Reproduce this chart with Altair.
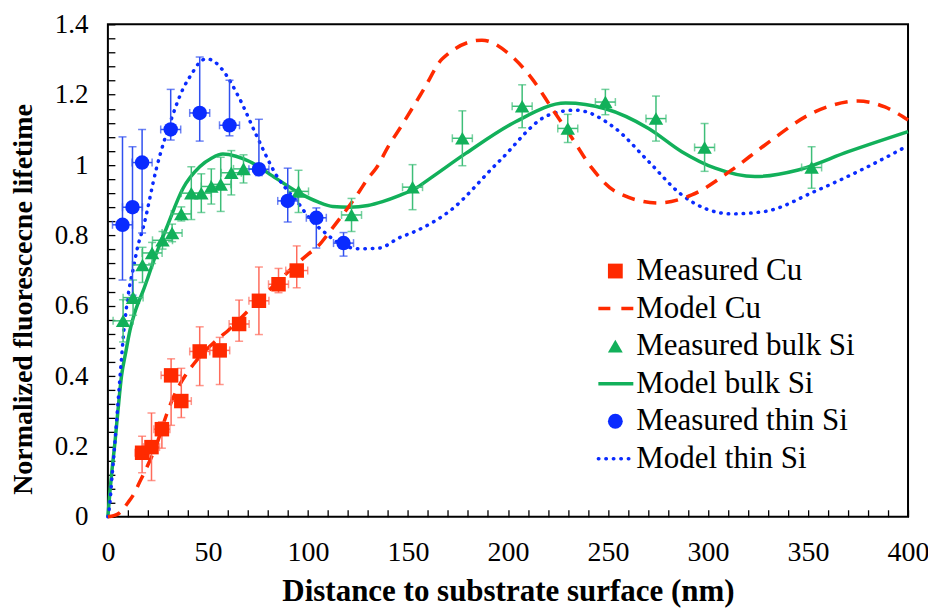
import altair as alt
import pandas as pd

# ---------------- data ----------------
# Measured Cu (red squares)
cu_x = [17.1, 21.8, 27.0, 31.6, 36.7, 45.9, 55.9, 65.6, 75.5, 85.3, 94.4]
cu_y = [0.182, 0.198, 0.249, 0.402, 0.329, 0.470, 0.473, 0.548, 0.614, 0.661, 0.700]
cu_lo = [0.125, 0.103, 0.195, 0.260, 0.282, 0.373, 0.376, 0.499, 0.518, 0.637, 0.651]
cu_hi = [0.229, 0.295, 0.270, 0.449, 0.422, 0.540, 0.510, 0.616, 0.710, 0.706, 0.770]
cu_xerr = [3.5, 4, 4, 5, 5, 5, 5, 5, 5, 5, 5.5]

# Measured bulk Si (green triangles)
bs_x = [7.6, 12.6, 17.3, 22.1, 27.3, 32.1, 36.7, 41.7, 46.7, 51.7, 56.4, 61.7, 67.8,
        95.3, 121.8, 152.3, 177.2, 207.1, 229.9, 248.7, 274.0, 298.3, 351.8]
bs_y = [0.557, 0.623, 0.716, 0.750, 0.786, 0.807, 0.861, 0.920, 0.920, 0.939, 0.945, 0.978, 0.989,
        0.925, 0.858, 0.937, 1.076, 1.167, 1.104, 1.179, 1.132, 1.050, 0.993]
bs_err = [0.06, 0.05, 0.05, 0.03, 0.025, 0.025, 0.02, 0.075, 0.055, 0.05, 0.077, 0.063, 0.04,
          0.06, 0.047, 0.064, 0.078, 0.061, 0.04, 0.036, 0.064, 0.068, 0.059]
bs_xerr = [5] * 23

# Measured thin Si (blue circles)
ts_x = [7.3, 12.3, 17.1, 31.4, 45.9, 60.8, 75.5, 89.9, 104.2, 117.8]
ts_y = [0.830, 0.880, 1.007, 1.101, 1.148, 1.113, 0.988, 0.898, 0.850, 0.778]
ts_lo = [0.673, 0.630, 0.807, 1.071, 1.068, 1.083, 0.970, 0.838, 0.764, 0.741]
ts_hi = [1.080, 1.052, 1.101, 1.215, 1.307, 1.241, 1.130, 0.991, 0.878, 0.808]
ts_xerr = [5] * 10

# Model Cu (red dashed)
mcu_x = [0, 3, 6, 10, 13, 16, 19, 24, 29.3, 32, 39.2, 43, 55.9, 60, 67.5, 100, 105, 111.6,
         119.9, 125.7, 130, 134, 140.6, 146.5, 153.1, 158.1, 167.2, 187, 200.5, 212.1, 222.1,
         232.1, 242, 253.7, 275.3, 291.9, 311.9, 328.5, 353.4, 375, 388.4, 400]
mcu_y = [0, 0.003, 0.012, 0.040, 0.065, 0.100, 0.135, 0.200, 0.290, 0.330, 0.406, 0.435, 0.510,
         0.529, 0.571, 0.746, 0.769, 0.816, 0.878, 0.925, 0.962, 0.990, 1.057, 1.109, 1.170,
         1.217, 1.302, 1.355, 1.316, 1.245, 1.160, 1.076, 0.991, 0.925, 0.892, 0.915, 0.986,
         1.057, 1.151, 1.182, 1.165, 1.128]

# Model bulk Si (green solid)
mbs_x = [0, 1, 2, 3.5, 5, 6.8, 9, 11, 14, 17.6, 20, 23.4, 29.3, 37.6, 45.9, 52, 57.5, 64, 70.8,
         84.1, 95.8, 105, 112.4, 120.7, 130, 137.3, 145.6, 153.9, 160.6, 178.9, 203.8, 228.8,
         248.7, 270.3, 286.9, 303.6, 323.5, 345.1, 370.1, 400]
mbs_y = [0, 0.07, 0.13, 0.21, 0.30, 0.40, 0.47, 0.529, 0.59, 0.642, 0.68, 0.736, 0.821, 0.934,
         0.995, 1.02, 1.031, 1.025, 1.01, 0.962, 0.92, 0.895, 0.882, 0.880, 0.885, 0.896, 0.913,
         0.934, 0.960, 1.033, 1.123, 1.176, 1.160, 1.104, 1.038, 0.991, 0.967, 0.986, 1.038, 1.095]

# Model thin Si (blue dotted)
mts_x = [0, 1, 2, 3.5, 5, 6.8, 8, 9.3, 11, 12.6, 15, 17.6, 24.3, 31.8, 37.6, 42, 45.9, 49.2, 53,
         57.5, 65.8, 74.2, 84.1, 95.8, 100.7, 109.1, 114, 125.7, 135.7, 145.6, 153.9, 170.6,
         195.5, 220.4, 233.8, 253.7, 270.3, 286.9, 311.9, 328.5, 353.4, 378.4, 400]
mts_y = [0, 0.04, 0.11, 0.21, 0.32, 0.45, 0.53, 0.595, 0.66, 0.703, 0.77, 0.821, 0.991, 1.132,
         1.217, 1.260, 1.292, 1.302, 1.295, 1.269, 1.189, 1.085, 0.972, 0.887, 0.849, 0.805,
         0.783, 0.762, 0.764, 0.793, 0.812, 0.868, 1.010, 1.142, 1.156, 1.104, 1.010, 0.915,
         0.861, 0.868, 0.925, 0.991, 1.055]

legend_labels = ["Measured Cu", "Model Cu", "Measured bulk Si", "Model bulk Si",
                 "Measured thin Si", "Model thin Si"]

x_ticks = list(range(0, 401, 10))
y_ticks = [round(i * 0.04, 2) for i in range(36)]

# ---------------- styling ----------------
FONT = "Liberation Serif"
RED, RED_E = "#FF2A00", "#FF6B5B"
GREEN, GREEN_E = "#12B05A", "#3DBE78"
BLUE, BLUE_E = "#0A2BFF", "#3050F0"

xscale = alt.Scale(domain=[0, 400], nice=False, zero=False)
yscale = alt.Scale(domain=[0, 1.4], nice=False, zero=False)

x_axis = alt.Axis(values=x_ticks, labelExpr="datum.value % 50 == 0 ? format(datum.value, 'd') : ''",
                  tickSize=7, offset=-7, domain=False, grid=False, labelPadding=22,
                  labelFont=FONT, labelFontSize=28, labelColor="black", tickColor="black",
                  tickWidth=1.3, labelFlush=False, labelOverlap=False,
                  titleFont=FONT, titleFontSize=31, titleFontWeight="bold", titleColor="black",
                  titlePadding=10)
y_axis = alt.Axis(values=y_ticks,
                  labelExpr="abs(datum.value*5 - round(datum.value*5)) < 0.001 ? format(datum.value, '~g') : ''",
                  tickSize=7, offset=-7, domain=False, grid=False, labelPadding=20,
                  labelFont=FONT, labelFontSize=27, labelColor="black", tickColor="black",
                  tickWidth=1.3, labelFlush=False, labelOverlap=False,
                  titleFont=FONT, titleFontSize=28, titleFontWeight="bold", titleColor="black",
                  titlePadding=17, titleY=275)
XT = "Distance to substrate surface (nm)"
YT = "Normalized fluorescecne lifetime"


def X(f):
    return alt.X(f, type="quantitative", scale=xscale, axis=x_axis, title=XT)


def Y(f):
    return alt.Y(f, type="quantitative", scale=yscale, axis=y_axis, title=YT)


def model_line(xs, ys, color, **kw):
    df = pd.DataFrame({"x": xs, "y": ys})
    return alt.Chart(df).mark_line(color=color, interpolate="monotone", **kw).encode(x=X("x"), y=Y("y"))


def err_layers(xs, ys, lo, hi, xerr, color):
    v = pd.DataFrame({"x": xs, "lo": lo, "hi": hi})
    h = pd.DataFrame({"xl": [a - e for a, e in zip(xs, xerr)], "xh": [a + e for a, e in zip(xs, xerr)], "y": ys})
    vc = pd.DataFrame({"x": xs + xs, "y": lo + hi})
    hc = pd.DataFrame({"x": list(h["xl"]) + list(h["xh"]), "y": ys + ys})
    return [
        alt.Chart(v).mark_rule(color=color, strokeWidth=1.5).encode(x=X("x"), y=Y("lo"), y2="hi"),
        alt.Chart(h).mark_rule(color=color, strokeWidth=1.5).encode(x=X("xl"), x2="xh", y=Y("y")),
        alt.Chart(vc).mark_tick(color=color, orient="horizontal", size=8, thickness=1.5).encode(x=X("x"), y=Y("y")),
        alt.Chart(hc).mark_tick(color=color, orient="vertical", size=8, thickness=1.5).encode(x=X("x"), y=Y("y")),
    ]


def markers(xs, ys, shape, color):
    df = pd.DataFrame({"x": xs, "y": ys})
    return alt.Chart(df).mark_point(shape=shape, filled=True, size=210, color=color, opacity=1).encode(
        x=X("x"), y=Y("y"))


layers = []
layers.append(model_line(mbs_x, mbs_y, GREEN, strokeWidth=3.5))
layers.append(model_line(mts_x, mts_y, BLUE, strokeWidth=3.5, strokeDash=[0.5, 7], strokeCap="round"))
layers.append(model_line(mcu_x, mcu_y, RED, strokeWidth=3.5, strokeDash=[13, 9]))

bs_lo = [round(a - e, 3) for a, e in zip(bs_y, bs_err)]
bs_hi = [round(a + e, 3) for a, e in zip(bs_y, bs_err)]
layers += err_layers(cu_x, cu_y, cu_lo, cu_hi, cu_xerr, RED_E)
layers += err_layers(bs_x, bs_y, bs_lo, bs_hi, bs_xerr, GREEN_E)
layers += err_layers(ts_x, ts_y, ts_lo, ts_hi, ts_xerr, BLUE_E)
layers.append(markers(bs_x, bs_y, "triangle-up", GREEN))
layers.append(markers(cu_x, cu_y, "square", RED))
layers.append(markers(ts_x, ts_y, "circle", BLUE))

# ---------------- legend (drawn inside plot) ----------------
ROW0, ROWSTEP = 247, 37.6
leg = pd.DataFrame({"label": legend_labels, "i": list(range(6))})
leg["py"] = ROW0 + ROWSTEP * leg["i"]
PY = alt.Y("py:Q", scale=None)

layers.append(alt.Chart(leg).mark_text(align="left", baseline="middle", font=FONT, fontSize=31,
                                       color="black").encode(x=alt.value(529), y=PY, text="label:N"))
sym_style = {0: ("square", RED), 2: ("triangle-up", GREEN), 4: ("circle", BLUE)}
for i, (shape, col) in sym_style.items():
    layers.append(alt.Chart(leg[leg["i"] == i]).mark_point(shape=shape, filled=True, size=220, color=col,
                                                           opacity=1).encode(x=alt.value(508), y=PY))
line_style = {1: (RED, dict(strokeDash=[12, 11])), 3: (GREEN, {}),
              5: (BLUE, dict(strokeDash=[0.5, 7], strokeCap="round"))}
for i, (col, kw) in line_style.items():
    layers.append(alt.Chart(leg[leg["i"] == i]).mark_rule(color=col, strokeWidth=3.5, **kw).encode(
        x=alt.value(491), x2=alt.value(526), y=PY))

chart = alt.layer(*layers).properties(
    width=801, height=493,
    autosize=alt.AutoSizeParams(type="none"),
    padding={"left": 100, "top": 16, "right": 20, "bottom": 92},
    background="white",
).configure(font=FONT).configure_axis(labelFont=FONT, titleFont=FONT).configure_text(
    font=FONT).configure_view(stroke="black", strokeWidth=2)

chart.save("out.html", embed_options={"renderer": "svg", "actions": False})
